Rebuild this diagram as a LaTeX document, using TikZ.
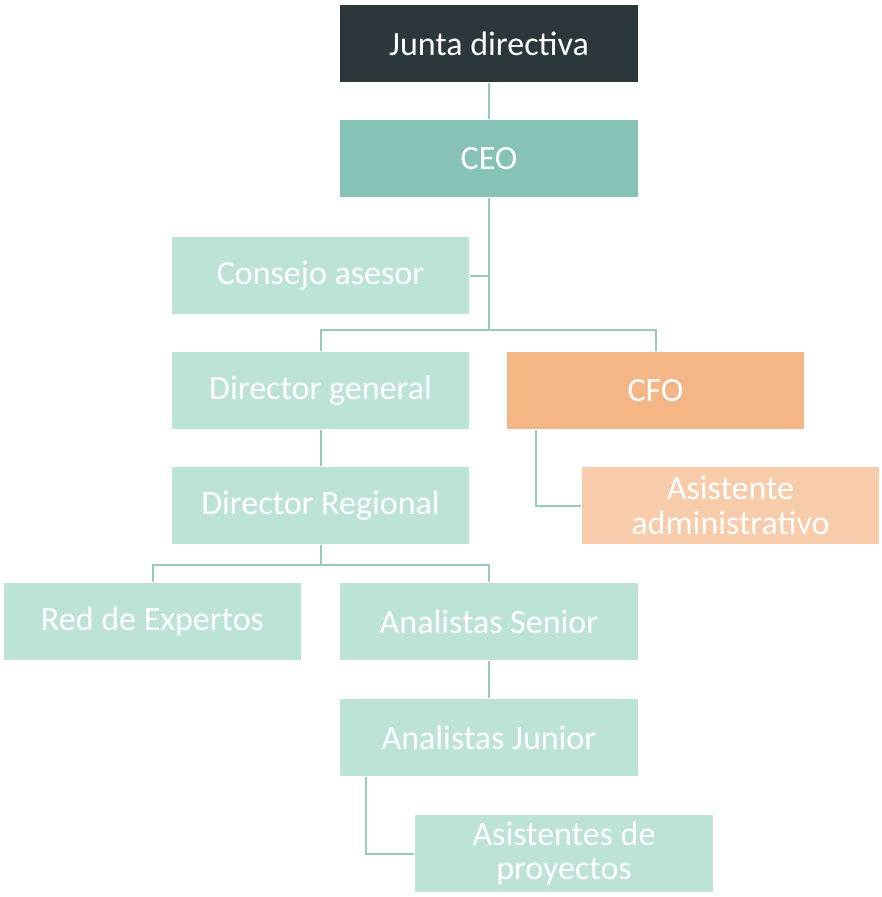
\documentclass[tikz,border=0pt]{standalone}
\usepackage{fontspec}
\setmainfont{Carlito}
\usepackage{tikz}
\usetikzlibrary{positioning,calc}

\definecolor{juntacol}{HTML}{2B373B}
\definecolor{ceocol}{HTML}{86C2B5}
\definecolor{mintcol}{HTML}{BDE3D9}
\definecolor{cfocol}{HTML}{F4B684}
\definecolor{asistcol}{HTML}{F8CBAB}
\definecolor{linecol}{HTML}{96CBBE}

\begin{document}
\begin{tikzpicture}[x=0.75pt, y=-0.75pt,
    orgbox/.style={draw=white, line width=0.6pt, fill=mintcol, text=white,
        minimum width=224pt, minimum height=59pt, inner sep=0pt,
        align=center, font=\fontsize{25.5}{26}\selectfont},
    link/.style={draw=linecol, line width=1.5pt}]
    \useasboundingbox (0,0) rectangle (882,897);

    % Boxes
    \node[orgbox, fill=juntacol] (junta) at (489,43.5) {Junta directiva};
    \node[orgbox, fill=ceocol] (ceo) at (489,158.5) {CEO};
    \node[orgbox] (consejo) at (320.5,275.5) {Consejo asesor};
    \node[orgbox] (dg) at (320.5,390.5) {Director general};
    \node[orgbox, fill=cfocol] (cfo) at (655.5,390.5) {CFO};
    \node[orgbox] (dr) at (320.5,505.5) {Director Regional};
    \node[orgbox, fill=asistcol] (asist) at (730.5,505.5) {Asistente\\administrativo};
    \node[orgbox] (red) at (152.5,621.5) {Red de Expertos};
    \node[orgbox] (senior) at (489,621.5) {Analistas Senior};
    \node[orgbox] (junior) at (489,737.5) {Analistas Junior};
    \node[orgbox] (proy) at (564,853.5) {Asistentes de\\proyectos};

    \coordinate (b1) at (489,330);
    \coordinate (b2) at (320.5,565);

    % Connectors
    \draw[link] (junta) -- (ceo);
    \draw[link] (ceo.south) -- (b1);
    \draw[link] (consejo.east) -- (consejo.east -| ceo.south);
    \draw[link] (dg.north) |- (b1) -| (cfo.north);
    \draw[link] (dg) -- (dr);
    \draw[link] ([xshift=23pt]cfo.south west) |- (asist.west);
    \draw[link] (dr) -- (b2);
    \draw[link] (red.north) |- (b2) -| (senior.north);
    \draw[link] (senior) -- (junior);
    \draw[link] ([xshift=20pt]junior.south west) |- (proy.west);
\end{tikzpicture}
\end{document}
